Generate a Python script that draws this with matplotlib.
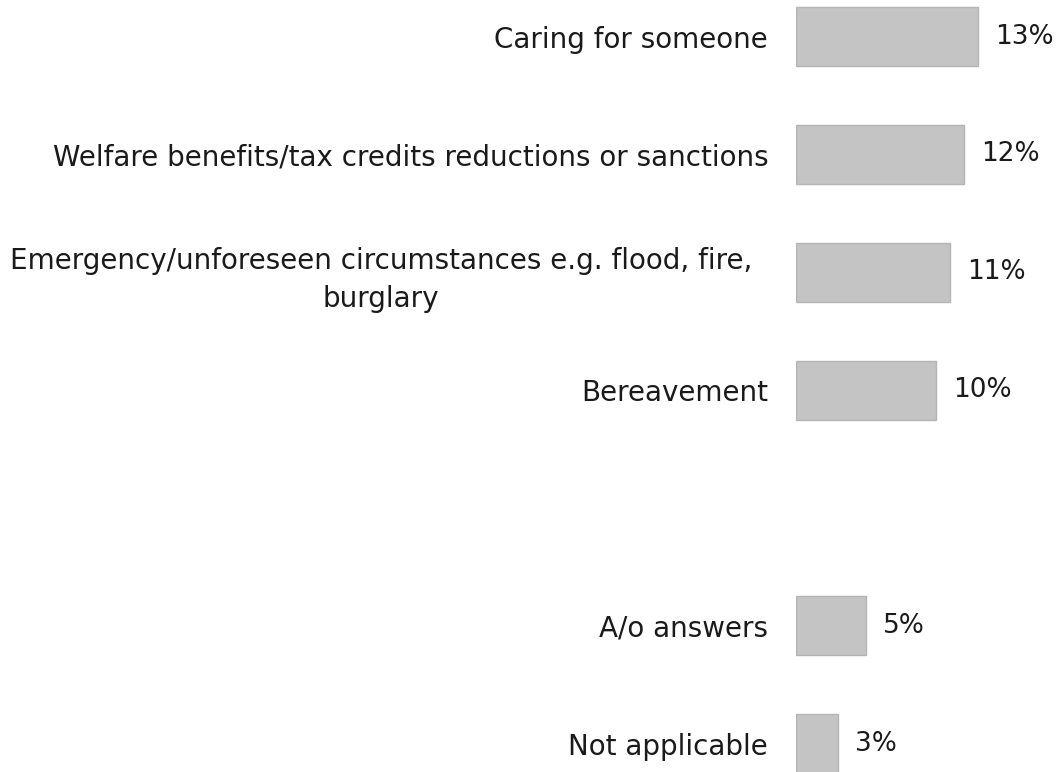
import matplotlib.pyplot as plt
from matplotlib.transforms import ScaledTranslation

# Данные (пустая строка = пропуск между группами)
categories = [
    "Caring for someone",
    "Welfare benefits/tax credits reductions or sanctions",
    "Emergency/unforeseen circumstances e.g. flood, fire,\nburglary",
    "Bereavement",
    "",
    "A/o answers",
    "Not applicable",
]
values = [13, 12, 11, 10, None, 5, 3]

plt.rcParams['font.family'] = ['DejaVu Sans']

fig = plt.figure(figsize=(10.64, 7.72), dpi=100)
ax = fig.add_axes([796 / 1064, 0, 1 - 796 / 1064, 1])

pos = list(range(len(categories)))
for y, v in zip(pos, values):
    if v is None:
        continue
    ax.barh(y, v, height=0.5, color='#c4c4c4', edgecolor='#b4b4b4', linewidth=1)
    ax.annotate(f"{v}%", (v, y), xytext=(17, 0), textcoords='offset pixels',
                ha='left', va='center', fontsize=19, color='#1a1a1a')

ax.set_yticks(pos)
labels = ax.set_yticklabels(categories, fontsize=20, color='#1a1a1a',
                            multialignment='center', linespacing=1.45)
ax.tick_params(axis='y', length=0, pad=20)
# двухстрочная подпись чуть левее
labels[2].set_transform(labels[2].get_transform() +
                        ScaledTranslation(-0.16, 0, fig.dpi_scale_trans))
ax.set_xticks([])
ax.set_xlim(0, (1064 - 796) / 14)
ax.set_ylim(6.24, -0.31)
for s in ax.spines.values():
    s.set_visible(False)

plt.savefig('out.png', dpi=100)
